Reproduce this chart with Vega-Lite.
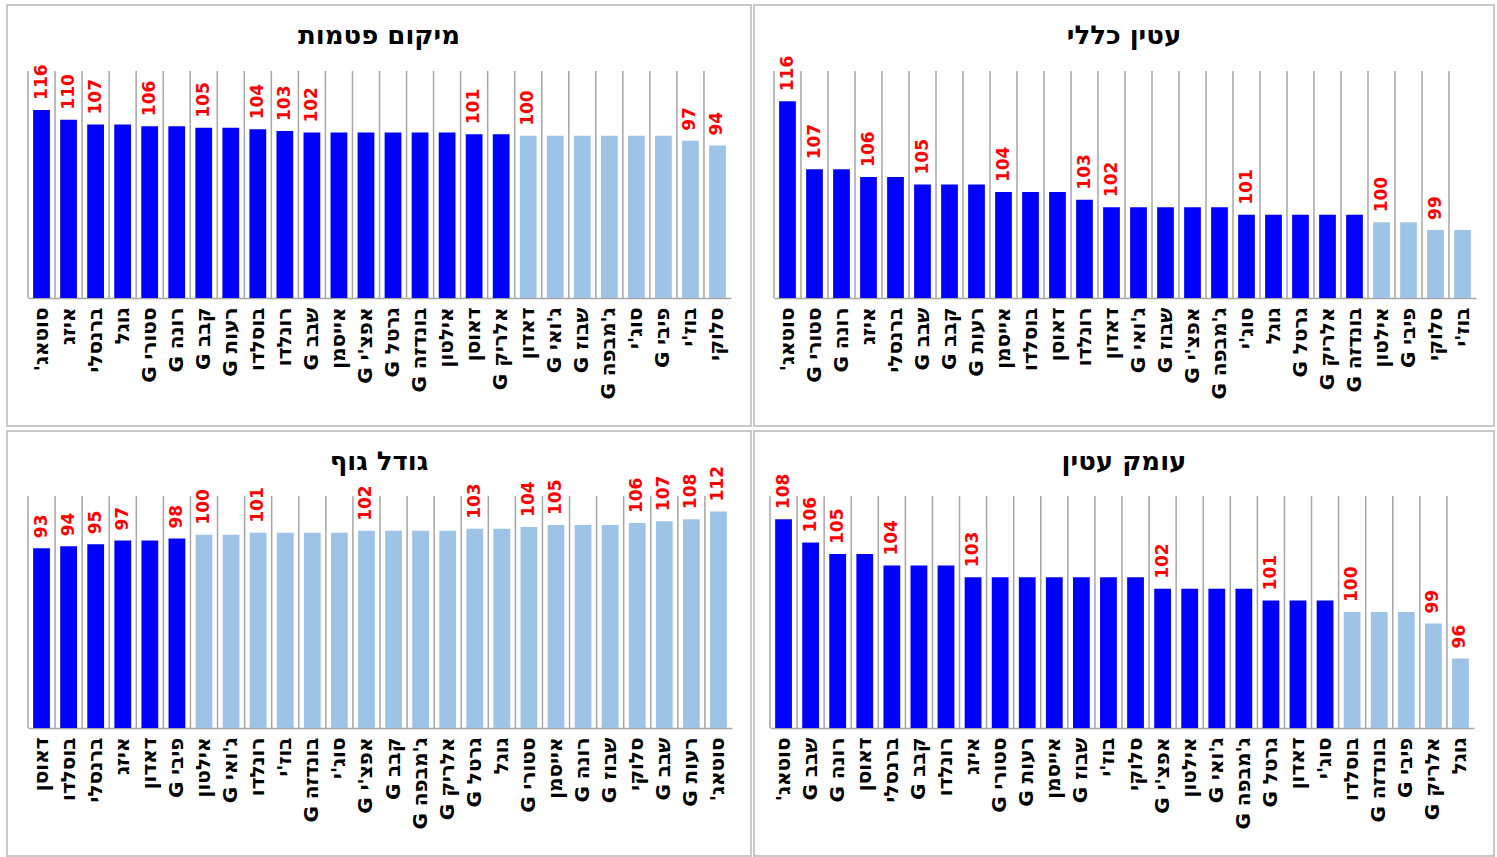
{
  "$schema": "https://vega.github.io/schema/vega-lite/v6.json",
  "padding": {"left": 6, "top": 4, "right": 0, "bottom": 0},
  "background": "white",
  "datasets": {
    "nipples": [
      {"name": "סוטאג'", "value": 116, "lbl": "116", "tone": "dark"},
      {"name": "איזג", "value": 110, "lbl": "110", "tone": "dark"},
      {"name": "ברנסלי", "value": 107, "lbl": "107", "tone": "dark"},
      {"name": "גוגל", "value": 107, "lbl": "", "tone": "dark"},
      {"name": "סטורי G", "value": 106, "lbl": "106", "tone": "dark"},
      {"name": "רונה G", "value": 106, "lbl": "", "tone": "dark"},
      {"name": "קבב G", "value": 105, "lbl": "105", "tone": "dark"},
      {"name": "רעות G", "value": 105, "lbl": "", "tone": "dark"},
      {"name": "בוסלדו", "value": 104, "lbl": "104", "tone": "dark"},
      {"name": "רונלדו", "value": 103, "lbl": "103", "tone": "dark"},
      {"name": "שבב G", "value": 102, "lbl": "102", "tone": "dark"},
      {"name": "אייסמן", "value": 102, "lbl": "", "tone": "dark"},
      {"name": "אפצ'י G", "value": 102, "lbl": "", "tone": "dark"},
      {"name": "גרטל G", "value": 102, "lbl": "", "tone": "dark"},
      {"name": "בונדזה G", "value": 102, "lbl": "", "tone": "dark"},
      {"name": "אילטון", "value": 102, "lbl": "", "tone": "dark"},
      {"name": "דאוסן", "value": 101, "lbl": "101", "tone": "dark"},
      {"name": "אלריק G", "value": 101, "lbl": "", "tone": "dark"},
      {"name": "דאדון", "value": 100, "lbl": "100", "tone": "light"},
      {"name": "ג'ואי G", "value": 100, "lbl": "", "tone": "light"},
      {"name": "שבוז G", "value": 100, "lbl": "", "tone": "light"},
      {"name": "ג'מבפה G", "value": 100, "lbl": "", "tone": "light"},
      {"name": "סוג'י", "value": 100, "lbl": "", "tone": "light"},
      {"name": "פיבי G", "value": 100, "lbl": "", "tone": "light"},
      {"name": "בוז'י", "value": 97, "lbl": "97", "tone": "light"},
      {"name": "סלוקי", "value": 94, "lbl": "94", "tone": "light"}
    ],
    "general": [
      {"name": "סוטאג'", "value": 116, "lbl": "116", "tone": "dark"},
      {"name": "סטורי G", "value": 107, "lbl": "107", "tone": "dark"},
      {"name": "רונה G", "value": 107, "lbl": "", "tone": "dark"},
      {"name": "איזג", "value": 106, "lbl": "106", "tone": "dark"},
      {"name": "ברנסלי", "value": 106, "lbl": "", "tone": "dark"},
      {"name": "שבב G", "value": 105, "lbl": "105", "tone": "dark"},
      {"name": "קבב G", "value": 105, "lbl": "", "tone": "dark"},
      {"name": "רעות G", "value": 105, "lbl": "", "tone": "dark"},
      {"name": "אייסמן", "value": 104, "lbl": "104", "tone": "dark"},
      {"name": "בוסלדו", "value": 104, "lbl": "", "tone": "dark"},
      {"name": "דאוסן", "value": 104, "lbl": "", "tone": "dark"},
      {"name": "רונלדו", "value": 103, "lbl": "103", "tone": "dark"},
      {"name": "דאדון", "value": 102, "lbl": "102", "tone": "dark"},
      {"name": "ג'ואי G", "value": 102, "lbl": "", "tone": "dark"},
      {"name": "שבוז G", "value": 102, "lbl": "", "tone": "dark"},
      {"name": "אפצ'י G", "value": 102, "lbl": "", "tone": "dark"},
      {"name": "ג'מבפה G", "value": 102, "lbl": "", "tone": "dark"},
      {"name": "סוג'י", "value": 101, "lbl": "101", "tone": "dark"},
      {"name": "גוגל", "value": 101, "lbl": "", "tone": "dark"},
      {"name": "גרטל G", "value": 101, "lbl": "", "tone": "dark"},
      {"name": "אלריק G", "value": 101, "lbl": "", "tone": "dark"},
      {"name": "בונדזה G", "value": 101, "lbl": "", "tone": "dark"},
      {"name": "אילטון", "value": 100, "lbl": "100", "tone": "light"},
      {"name": "פיבי G", "value": 100, "lbl": "", "tone": "light"},
      {"name": "סלוקי", "value": 99, "lbl": "99", "tone": "light"},
      {"name": "בוז'י", "value": 99, "lbl": "", "tone": "light"}
    ],
    "body": [
      {"name": "דאוסן", "value": 93, "lbl": "93", "tone": "dark"},
      {"name": "בוסלדו", "value": 94, "lbl": "94", "tone": "dark"},
      {"name": "ברנסלי", "value": 95, "lbl": "95", "tone": "dark"},
      {"name": "איזג", "value": 97, "lbl": "97", "tone": "dark"},
      {"name": "דאדון", "value": 97, "lbl": "", "tone": "dark"},
      {"name": "פיבי G", "value": 98, "lbl": "98", "tone": "dark"},
      {"name": "אילטון", "value": 100, "lbl": "100", "tone": "light"},
      {"name": "ג'ואי G", "value": 100, "lbl": "", "tone": "light"},
      {"name": "רונלדו", "value": 101, "lbl": "101", "tone": "light"},
      {"name": "בוז'י", "value": 101, "lbl": "", "tone": "light"},
      {"name": "בונדזה G", "value": 101, "lbl": "", "tone": "light"},
      {"name": "סוג'י", "value": 101, "lbl": "", "tone": "light"},
      {"name": "אפצ'י G", "value": 102, "lbl": "102", "tone": "light"},
      {"name": "קבב G", "value": 102, "lbl": "", "tone": "light"},
      {"name": "ג'מבפה G", "value": 102, "lbl": "", "tone": "light"},
      {"name": "אלריק G", "value": 102, "lbl": "", "tone": "light"},
      {"name": "גרטל G", "value": 103, "lbl": "103", "tone": "light"},
      {"name": "גוגל", "value": 103, "lbl": "", "tone": "light"},
      {"name": "סטורי G", "value": 104, "lbl": "104", "tone": "light"},
      {"name": "אייסמן", "value": 105, "lbl": "105", "tone": "light"},
      {"name": "רונה G", "value": 105, "lbl": "", "tone": "light"},
      {"name": "שבוז G", "value": 105, "lbl": "", "tone": "light"},
      {"name": "סלוקי", "value": 106, "lbl": "106", "tone": "light"},
      {"name": "שבב G", "value": 107, "lbl": "107", "tone": "light"},
      {"name": "רעות G", "value": 108, "lbl": "108", "tone": "light"},
      {"name": "סוטאג'", "value": 112, "lbl": "112", "tone": "light"}
    ],
    "depth": [
      {"name": "סוטאג'", "value": 108, "lbl": "108", "tone": "dark"},
      {"name": "שבב G", "value": 106, "lbl": "106", "tone": "dark"},
      {"name": "רונה G", "value": 105, "lbl": "105", "tone": "dark"},
      {"name": "דאוסן", "value": 105, "lbl": "", "tone": "dark"},
      {"name": "ברנסלי", "value": 104, "lbl": "104", "tone": "dark"},
      {"name": "קבב G", "value": 104, "lbl": "", "tone": "dark"},
      {"name": "רונלדו", "value": 104, "lbl": "", "tone": "dark"},
      {"name": "איזג", "value": 103, "lbl": "103", "tone": "dark"},
      {"name": "סטורי G", "value": 103, "lbl": "", "tone": "dark"},
      {"name": "רעות G", "value": 103, "lbl": "", "tone": "dark"},
      {"name": "אייסמן", "value": 103, "lbl": "", "tone": "dark"},
      {"name": "שבוז G", "value": 103, "lbl": "", "tone": "dark"},
      {"name": "בוז'י", "value": 103, "lbl": "", "tone": "dark"},
      {"name": "סלוקי", "value": 103, "lbl": "", "tone": "dark"},
      {"name": "אפצ'י G", "value": 102, "lbl": "102", "tone": "dark"},
      {"name": "אילטון", "value": 102, "lbl": "", "tone": "dark"},
      {"name": "ג'ואי G", "value": 102, "lbl": "", "tone": "dark"},
      {"name": "ג'מבפה G", "value": 102, "lbl": "", "tone": "dark"},
      {"name": "גרטל G", "value": 101, "lbl": "101", "tone": "dark"},
      {"name": "דאדון", "value": 101, "lbl": "", "tone": "dark"},
      {"name": "סוג'י", "value": 101, "lbl": "", "tone": "dark"},
      {"name": "בוסלדו", "value": 100, "lbl": "100", "tone": "light"},
      {"name": "בונדזה G", "value": 100, "lbl": "", "tone": "light"},
      {"name": "פיבי G", "value": 100, "lbl": "", "tone": "light"},
      {"name": "אלריק G", "value": 99, "lbl": "99", "tone": "light"},
      {"name": "גוגל", "value": 96, "lbl": "96", "tone": "light"}
    ]
  },
  "vconcat": [
    {
      "hconcat": [
        {
          "width": 744, "height": 421,
          "title": {"text": "מיקום פטמות"},
          "data": {"name": "nipples"},
          "encoding": {
            "x": {"field": "name", "type": "nominal", "sort": null, "scale": {"range": [21, 724], "paddingInner": 0, "paddingOuter": 0}}
          },
          "layer": [
            {
              "mark": {"type": "rule", "color": "#A6A6A6", "strokeWidth": 1.5},
              "encoding": {
                "x": {"field": "name", "type": "nominal", "bandPosition": 0},
                "y": {"datum": 140, "type": "quantitative"},
                "y2": {"datum": 0}
              }
            },
            {
              "mark": {"type": "bar", "width": {"band": 0.62}},
              "encoding": {
                "y": {"field": "value", "type": "quantitative", "scale": {"domain": [0, 140], "range": [293, 66], "nice": false},
                  "axis": {"orient": "right", "offset": -20, "labels": false, "ticks": false, "grid": false, "title": null, "domainColor": "#A6A6A6", "domainWidth": 1.5}},
                "y2": {"datum": 0},
                "color": {"field": "tone", "type": "nominal", "scale": {"domain": ["dark", "light"], "range": ["#0000FF", "#9DC3E6"]}, "legend": null}
              }
            },
            {
              "mark": {"type": "text", "angle": 270, "align": "left", "baseline": "middle", "dx": 10, "color": "#FF0000", "fontSize": 17, "fontWeight": "bold", "font": "DejaVu Sans"},
              "encoding": {
                "y": {"field": "value", "type": "quantitative", "axis": null},
                "text": {"field": "lbl", "type": "nominal"}
              }
            }
          ]
        },
        {
          "width": 740, "height": 421,
          "title": {"text": "עטין כללי"},
          "data": {"name": "general"},
          "encoding": {
            "x": {"field": "name", "type": "nominal", "sort": null, "scale": {"range": [20, 722], "paddingInner": 0, "paddingOuter": 0}}
          },
          "layer": [
            {
              "mark": {"type": "rule", "color": "#A6A6A6", "strokeWidth": 1.5},
              "encoding": {
                "x": {"field": "name", "type": "nominal", "bandPosition": 0},
                "y": {"datum": 120, "type": "quantitative"},
                "y2": {"datum": 90}
              }
            },
            {
              "mark": {"type": "bar", "width": {"band": 0.62}},
              "encoding": {
                "y": {"field": "value", "type": "quantitative", "scale": {"domain": [90, 120], "range": [293, 66], "nice": false, "zero": false},
                  "axis": {"orient": "right", "offset": -18, "labels": false, "ticks": false, "grid": false, "title": null, "domainColor": "#A6A6A6", "domainWidth": 1.5}},
                "y2": {"datum": 90},
                "color": {"field": "tone", "type": "nominal", "scale": {"domain": ["dark", "light"], "range": ["#0000FF", "#9DC3E6"]}, "legend": null}
              }
            },
            {
              "mark": {"type": "text", "angle": 270, "align": "left", "baseline": "middle", "dx": 10, "color": "#FF0000", "fontSize": 17, "fontWeight": "bold", "font": "DejaVu Sans"},
              "encoding": {
                "y": {"field": "value", "type": "quantitative", "axis": null},
                "text": {"field": "lbl", "type": "nominal"}
              }
            }
          ]
        }
      ],
      "spacing": 1
    },
    {
      "hconcat": [
        {
          "width": 744, "height": 425,
          "title": {"text": "גודל גוף"},
          "data": {"name": "body"},
          "encoding": {
            "x": {"field": "name", "type": "nominal", "sort": null, "scale": {"range": [21, 725], "paddingInner": 0, "paddingOuter": 0}}
          },
          "layer": [
            {
              "mark": {"type": "rule", "color": "#A6A6A6", "strokeWidth": 1.5},
              "encoding": {
                "x": {"field": "name", "type": "nominal", "bandPosition": 0},
                "y": {"datum": 120, "type": "quantitative"},
                "y2": {"datum": 0}
              }
            },
            {
              "mark": {"type": "bar", "width": {"band": 0.62}},
              "encoding": {
                "y": {"field": "value", "type": "quantitative", "scale": {"domain": [0, 120], "range": [297, 65], "nice": false},
                  "axis": {"orient": "right", "offset": -19, "labels": false, "ticks": false, "grid": false, "title": null, "domainColor": "#A6A6A6", "domainWidth": 1.5}},
                "y2": {"datum": 0},
                "color": {"field": "tone", "type": "nominal", "scale": {"domain": ["dark", "light"], "range": ["#0000FF", "#9DC3E6"]}, "legend": null}
              }
            },
            {
              "mark": {"type": "text", "angle": 270, "align": "left", "baseline": "middle", "dx": 10, "color": "#FF0000", "fontSize": 17, "fontWeight": "bold", "font": "DejaVu Sans"},
              "encoding": {
                "y": {"field": "value", "type": "quantitative", "axis": null},
                "text": {"field": "lbl", "type": "nominal"}
              }
            }
          ]
        },
        {
          "width": 740, "height": 425,
          "title": {"text": "עומק עטין"},
          "data": {"name": "depth"},
          "encoding": {
            "x": {"field": "name", "type": "nominal", "sort": null, "scale": {"range": [16, 720], "paddingInner": 0, "paddingOuter": 0}}
          },
          "layer": [
            {
              "mark": {"type": "rule", "color": "#A6A6A6", "strokeWidth": 1.5},
              "encoding": {
                "x": {"field": "name", "type": "nominal", "bandPosition": 0},
                "y": {"datum": 110, "type": "quantitative"},
                "y2": {"datum": 90}
              }
            },
            {
              "mark": {"type": "bar", "width": {"band": 0.62}},
              "encoding": {
                "y": {"field": "value", "type": "quantitative", "scale": {"domain": [90, 110], "range": [297, 65], "nice": false, "zero": false},
                  "axis": {"orient": "right", "offset": -20, "labels": false, "ticks": false, "grid": false, "title": null, "domainColor": "#A6A6A6", "domainWidth": 1.5}},
                "y2": {"datum": 90},
                "color": {"field": "tone", "type": "nominal", "scale": {"domain": ["dark", "light"], "range": ["#0000FF", "#9DC3E6"]}, "legend": null}
              }
            },
            {
              "mark": {"type": "text", "angle": 270, "align": "left", "baseline": "middle", "dx": 10, "color": "#FF0000", "fontSize": 17, "fontWeight": "bold", "font": "DejaVu Sans"},
              "encoding": {
                "y": {"field": "value", "type": "quantitative", "axis": null},
                "text": {"field": "lbl", "type": "nominal"}
              }
            }
          ]
        }
      ],
      "spacing": 1
    }
  ],
  "spacing": 3,
  "config": {
    "font": "DejaVu Sans",
    "view": {"stroke": "#C8C8C8", "strokeWidth": 2},
    "title": {"fontSize": 26, "font": "DejaVu Sans", "fontWeight": "bold", "color": "black", "anchor": "middle", "frame": "group", "offset": -44, "baseline": "bottom"},
    "axisX": {
      "title": null,
      "labelAngle": -90,
      "labelFontSize": 20,
      "labelFontWeight": "bold",
      "labelColor": "black",
      "labelFont": "DejaVu Sans",
      "labelPadding": 9,
      "ticks": false,
      "grid": false,
      "domainColor": "#A6A6A6",
      "domainWidth": 1.5,
      "offset": -128,
      "labelOverlap": false,
      "labelLimit": 220,
      "labelExpr": "'\u202b' + datum.label + '\u202c'"
    }
  }
}
